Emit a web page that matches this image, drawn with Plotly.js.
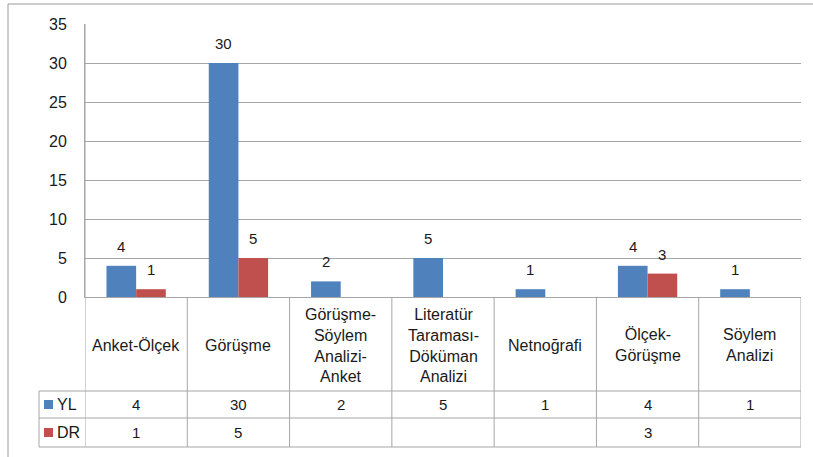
<!DOCTYPE html>
<html><head><meta charset="utf-8">
<script src="https://cdn.plot.ly/plotly-3.0.1.min.js"></script>
<style>html,body{margin:0;padding:0;background:#fff;}#chart{width:813px;height:457px;}</style>
</head><body><div id="chart"></div>
<script>
// ---- data ----
const categories = ['Anket-Ölçek','Görüşme','Görüşme-Söylem Analizi-Anket','Literatür Taraması-Döküman Analizi','Netnoğrafi','Ölçek-Görüşme','Söylem Analizi'];
const categoryLabels = ['Anket-Ölçek','Görüşme','Görüşme-<br>Söylem<br>Analizi-<br>Anket','Literatür<br>Taraması-<br>Döküman<br>Analizi','Netnoğrafi','Ölçek-<br>Görüşme','Söylem<br>Analizi'];
const seriesNames = ['YL','DR'];
const ylValues = [4,30,2,5,1,4,1];
const drValues = [1,5,null,null,null,3,null];
const yTicks = [0,5,10,15,20,25,30,35];

// ---- styling / geometry ----
const W = 813, H = 457;
const L = 85, R = 801, T = 24, B = 297;
const colors = ['#4F81BD','#C0504D'];
const gridColor = '#A6A6A6';
const textColor = '#1a1a1a';
const font = 'Liberation Sans, Arial, sans-serif';
const px2x = X => (X - L) / (R - L);
const py2y = Y => (B - Y) / (B - T);
const rowTops = [297, 391, 418, 447];
const legendLeft = 39;

const series = [ylValues, drValues];
const traces = series.map((vals, i) => ({
  type: 'bar', name: seriesNames[i], x: categories, y: vals,
  marker: {color: colors[i], line: {width: 0}},
  hoverinfo: 'skip'
}));

const shapes = [];
const annotations = [];
const line = {color: gridColor, width: 1};

// outer chart frame
shapes.push({type:'rect', xref:'paper', yref:'paper', x0:px2x(8), x1:px2x(830), y0:py2y(470), y1:py2y(4), line:{color:'#9a9a9a', width:1}, layer:'below'});

// table horizontal lines
rowTops.slice(1).forEach(Y => shapes.push({type:'line', xref:'paper', yref:'paper', x0:px2x(legendLeft), x1:1, y0:py2y(Y), y1:py2y(Y), line}));
// legend column left edge
shapes.push({type:'line', xref:'paper', yref:'paper', x0:px2x(legendLeft), x1:px2x(legendLeft), y0:py2y(rowTops[1]), y1:py2y(rowTops[3]), line});
// category boundaries
for (let k = 0; k <= categories.length; k++) {
  const xb = k - 0.5;
  shapes.push({type:'line', xref:'x', yref:'paper', x0:xb, x1:xb, y0:(k===0?1:0), y1:py2y(rowTops[3]), line});
}

// header row text
categories.forEach((c, k) => {
  annotations.push({xref:'x', yref:'paper', x:c, y:py2y((rowTops[0]+rowTops[1])/2 + 1), text:categoryLabels[k], showarrow:false, xanchor:'center', yanchor:'middle', font:{family:font, size:16, color:textColor}});
});

// data rows
series.forEach((vals, i) => {
  const yc = py2y((rowTops[i+1] + rowTops[i+2]) / 2);
  // legend key
  shapes.push({type:'rect', xref:'paper', yref:'paper', x0:px2x(44), x1:px2x(53), y0:yc - 4.5/(B-T), y1:yc + 4.5/(B-T), fillcolor:colors[i], line:{width:0}});
  annotations.push({xref:'paper', yref:'paper', x:px2x(55), y:yc, text:seriesNames[i], showarrow:false, xanchor:'left', yanchor:'middle', font:{family:font, size:16, color:textColor}});
  vals.forEach((v, k) => {
    if (v === null) return;
    annotations.push({xref:'x', yref:'paper', x:categories[k], y:yc, text:String(v), showarrow:false, xanchor:'center', yanchor:'middle', font:{family:font, size:15, color:textColor}});
    // data label above the bar
    annotations.push({xref:'x', yref:'y', x:categories[k], y:v, text:String(v), showarrow:false, xanchor:'center', yanchor:'bottom', xshift:(i===0?-14.8:14.8), yshift:9, font:{family:font, size:15, color:textColor}});
  });
});

const layout = {
  width: W, height: H,
  margin: {l:L, r:W-R, t:T, b:H-B, pad:0},
  paper_bgcolor:'#fff', plot_bgcolor:'#fff',
  showlegend:false,
  barmode:'group', bargap:0.42, bargroupgap:0,
  font:{family:font, color:textColor},
  xaxis:{type:'category', range:[-0.5, categories.length-0.5], showticklabels:false, ticks:'', showgrid:false, zeroline:false, showline:true, linecolor:gridColor, linewidth:1, fixedrange:true},
  yaxis:{range:[0,35], tickvals:yTicks, ticktext:yTicks.map(String), showgrid:true, gridcolor:gridColor, gridwidth:1, zeroline:false, showline:true, linecolor:gridColor, linewidth:1, ticks:'', ticklabelstandoff:14, tickfont:{family:font, size:16, color:textColor}, fixedrange:true},
  shapes, annotations
};

Plotly.newPlot('chart', traces, layout, {displayModeBar:false, staticPlot:true});
</script></body></html>
